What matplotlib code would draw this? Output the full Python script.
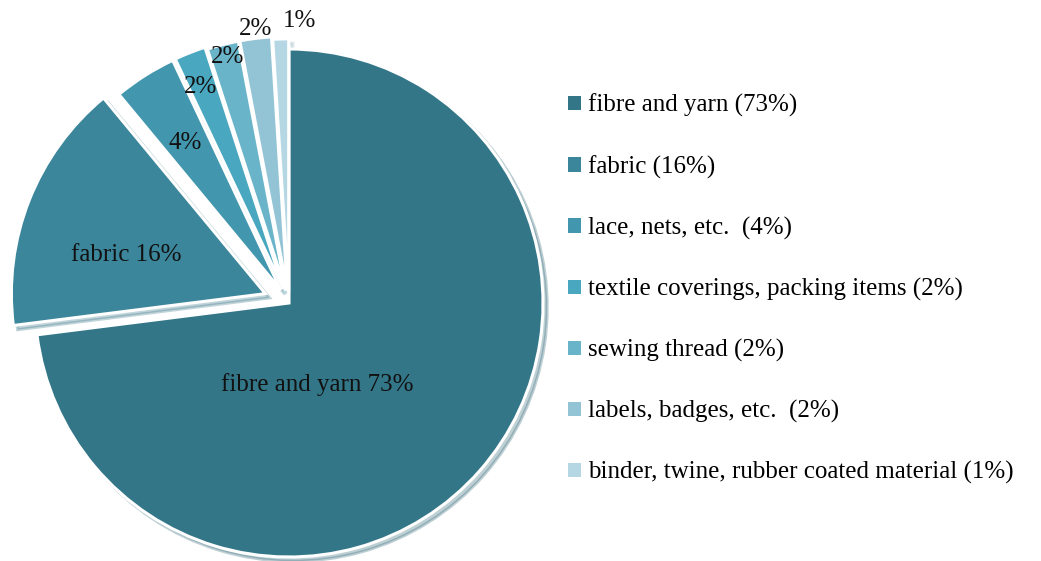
"""Pie chart of textile product categories."""

import matplotlib
matplotlib.use("Agg")
import matplotlib.pyplot as plt
from matplotlib.patches import Patch

categories = [
    "fibre and yarn",
    "fabric",
    "lace, nets, etc. ",
    "textile coverings, packing items",
    "sewing thread",
    "labels, badges, etc. ",
    "binder, twine, rubber coated material",
]
shares = [73, 16, 4, 2, 2, 2, 1]
slice_labels = ["fibre and yarn 73%", "fabric 16%", "4%", "2%", "2%", "2%", "1%"]

colors = ["#337688", "#3b869b", "#4297ae", "#4aa7c0", "#6ab4ca", "#93c4d5", "#b4d7e3"]
explode = [0.0, 0.1, 0.06, 0.06, 0.05, 0.05, 0.04]
# label positions in axes data units (radius = 1)
label_pos = [(0.11, -0.32), (-0.64, 0.19), (-0.41, 0.63), (-0.35, 0.85),
             (-0.24, 0.97), (-0.13, 1.08), (0.04, 1.11)]

plt.rcParams["font.family"] = ["Liberation Serif", "DejaVu Serif"]

W, H = 1041, 561
fig = plt.figure(figsize=(W / 100, H / 100), dpi=100)
cx, cy, r = 289, 303, 254
ax = fig.add_axes([(cx - r) / W, (H - cy - r) / H, 2 * r / W, 2 * r / H])

wedges, _ = ax.pie(
    shares,
    colors=colors,
    explode=explode,
    startangle=90,
    counterclock=False,
    radius=1.0,
    shadow={"ox": 0.012, "oy": -0.012, "shade": 0.15, "alpha": 0.3},
    wedgeprops={"edgecolor": "white", "linewidth": 2.2},
)
for p in ax.patches:
    p.set_clip_on(False)

ax.set_xlim(-1, 1)
ax.set_ylim(-1, 1)
ax.set_aspect("equal")
ax.axis("off")

for text, (x, y) in zip(slice_labels, label_pos):
    ax.text(x, y, text, ha="center", va="center", fontsize=18, color="#111111")

handles = [Patch(facecolor=c, edgecolor="none") for c in colors]
labels = [f"{c} ({s}%)" for c, s in zip(categories, shares)]
fig.legend(
    handles, labels,
    loc="upper left",
    bbox_to_anchor=(558 / W, 1 - 84 / H),
    frameon=False,
    fontsize=18,
    handlelength=0.5,
    handleheight=0.5,
    handletextpad=0.3,
    labelspacing=1.52,
    borderaxespad=0,
)

fig.savefig("out.png", dpi=100)
